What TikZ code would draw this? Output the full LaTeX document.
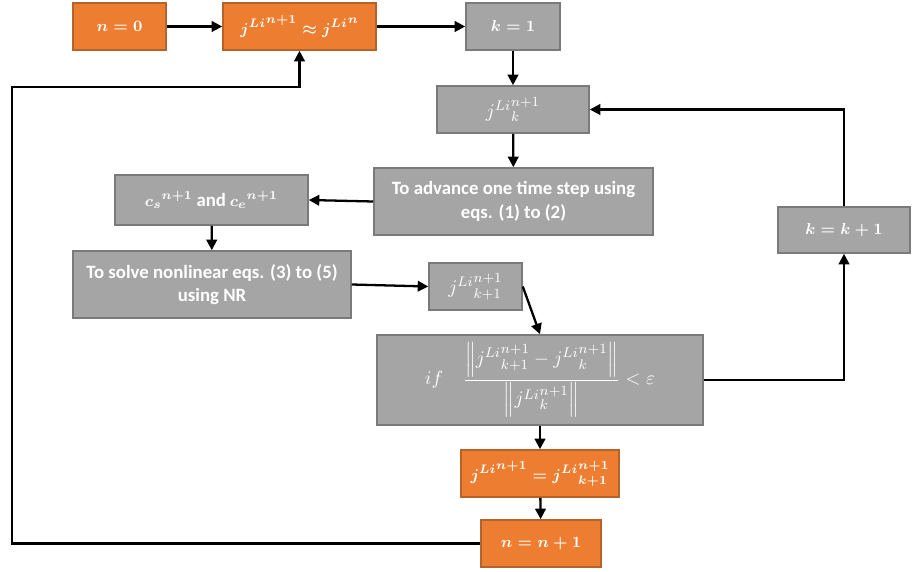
\documentclass[tikz,border=0pt]{standalone}
\usepackage{amsmath}
\usepackage{fontspec}
\setmainfont{Carlito}
\usetikzlibrary{arrows.meta}

\definecolor{boxorange}{HTML}{ED7D31}
\definecolor{orangeline}{HTML}{B4632A}
\definecolor{boxgray}{HTML}{A5A5A5}
\definecolor{grayline}{HTML}{7A7A7A}

\newcommand{\jLi}[2]{{j^{Li}}^{#1}_{#2}}

\tikzset{
  box/.style={draw, line width=0.9pt, text=white, align=center, inner sep=0pt,
    font=\bfseries\boldmath\fontsize{9.5}{11.5}\selectfont},
  orangebox/.style={box, fill=boxorange, draw=orangeline},
  graybox/.style={box, fill=boxgray, draw=grayline},
  wordy/.style={font=\bfseries\boldmath\fontsize{10.7}{13.5}\selectfont},
  plainmath/.style={font=\bfseries\unboldmath\fontsize{11.3}{13}\selectfont},
  arrow/.style={-{Triangle[length=6pt,width=6pt]}, line width=1.3pt}
}

\begin{document}
\begin{tikzpicture}[x=0.02cm, y=-0.02cm]
  \useasboundingbox (0,0) rectangle (919,571);

  % top row
  \node[orangebox, minimum width=1.86cm, minimum height=0.94cm] (n0) at (119.5,26.5) {$n=0$};
  \node[orangebox, minimum width=3.06cm, minimum height=0.94cm] (japprox) at (299.5,26.5) {$\jLi{n+1}{}\approx {j^{Li}}^{n}$};
  \node[graybox, minimum width=1.88cm, minimum height=0.94cm] (k1) at (513,26.5) {$k=1$};

  % inner loop
  \node[graybox, plainmath, minimum width=3.04cm, minimum height=0.94cm] (jk) at (513,109.5) {$\jLi{n+1}{k}$};
  \node[graybox, wordy, minimum width=5.58cm, minimum height=1.34cm] (advance) at (513.5,201.5) {To advance one time step using\\eqs. (1) to (2)};
  \node[graybox, minimum width=3.86cm, minimum height=1.0cm] (cs) at (211.5,200) {${c_s}^{n+1}$ {\fontsize{10.7}{12}\selectfont and} ${c_e}^{n+1}$};
  \node[graybox, wordy, minimum width=5.56cm, minimum height=1.34cm] (solve) at (212,284.5) {To solve nonlinear eqs. (3) to (5)\\using NR};
  \node[graybox, plainmath, minimum width=1.86cm, minimum height=0.94cm] (jk1) at (475.5,286.5) {$\jLi{n+1}{k+1}$};
  \node[graybox, plainmath, minimum width=6.52cm, minimum height=1.8cm] (if) at (540,380)
    {$if\quad \dfrac{\left\|\jLi{n+1}{k+1}-\jLi{n+1}{k}\right\|}{\left\|\jLi{n+1}{k}\right\|}<\varepsilon$};
  \node[graybox, minimum width=2.64cm, minimum height=0.92cm] (kk1) at (844,230) {$k=k+1$};

  % bottom
  \node[orangebox, minimum width=3.16cm, minimum height=0.94cm] (jeq) at (540,473.5) {$\jLi{n+1}{}=\jLi{n+1}{k+1}$};
  \node[orangebox, minimum width=2.4cm, minimum height=0.94cm] (nn1) at (541,543.5) {$n=n+1$};

  \coordinate (backcorner) at (12,87);

  \draw[arrow] (n0) -- (japprox);
  \draw[arrow] (japprox) -- (k1);
  \draw[arrow] (k1) -- (jk);
  \draw[arrow] (jk) -- (advance);
  \draw[arrow] (advance.west) -- (cs.east);
  \draw[arrow] (cs) -- (solve);
  \draw[arrow] (solve.east) -- (jk1.west);
  \draw[arrow] (jk1.east) -- (if.north);
  \draw[arrow] (if.east) -| (kk1.south);
  \draw[arrow] (kk1.north) |- (jk.east);
  \draw[arrow] (if) -- (jeq);
  \draw[arrow] (jeq) -- (nn1);
  \draw[arrow] (nn1.west) -| (backcorner) -| (japprox.south);
\end{tikzpicture}
\end{document}
